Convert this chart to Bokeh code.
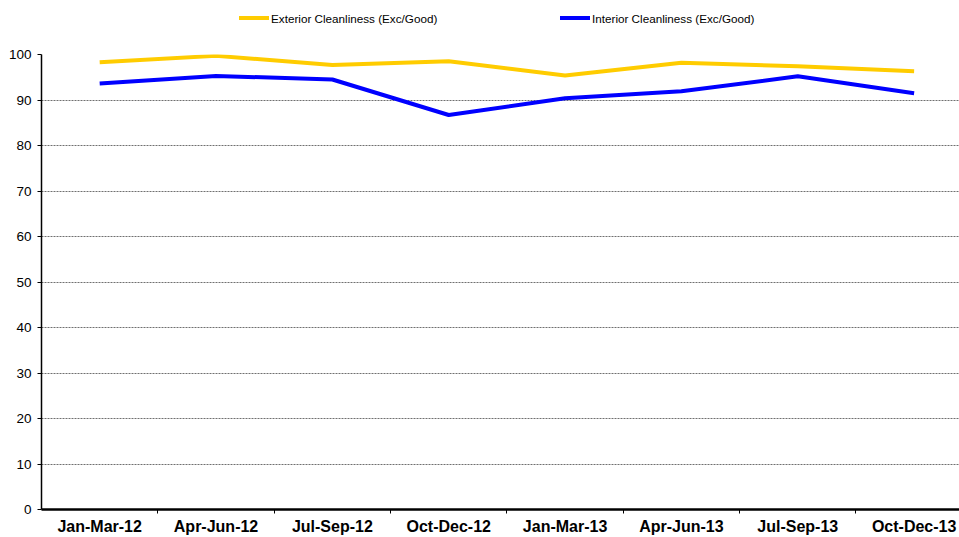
from bokeh.plotting import figure
from bokeh.models import FixedTicker, Range1d, Div
from bokeh.layouts import column
from bokeh.embed import file_html
from bokeh.resources import INLINE

categories = ["Jan-Mar-12", "Apr-Jun-12", "Jul-Sep-12", "Oct-Dec-12",
              "Jan-Mar-13", "Apr-Jun-13", "Jul-Sep-13", "Oct-Dec-13"]
exterior = [98.3, 99.7, 97.7, 98.5, 95.4, 98.2, 97.4, 96.3]
interior = [93.6, 95.3, 94.5, 86.7, 90.4, 91.9, 95.2, 91.5]
series_names = ["Exterior Cleanliness (Exc/Good)", "Interior Cleanliness (Exc/Good)"]
series_colors = ["#FFCC00", "#0000FF"]
y_ticks = list(range(0, 101, 10))

xs = [i + 0.5 for i in range(len(categories))]

p = figure(width=959, height=491, output_backend="svg", toolbar_location=None,
           x_range=Range1d(0, 7.89), y_range=Range1d(0, 100),
           min_border_left=41, min_border_right=0, min_border_top=8,
           min_border_bottom=28)
p.outline_line_color = None
p.background_fill_color = "white"
p.border_fill_color = "white"

for vals, col in zip([exterior, interior], series_colors):
    p.line(xs, vals, line_color=col, line_width=4)

# x axis
p.xaxis.ticker = FixedTicker(ticks=xs, minor_ticks=list(range(1, len(categories))))
p.xaxis.major_label_overrides = {x: c for x, c in zip(xs, categories)}
p.xaxis.major_tick_out = 0
p.xaxis.major_tick_in = 0
p.xaxis.minor_tick_out = 4
p.xaxis.minor_tick_in = 0
p.xaxis.minor_tick_line_color = "black"
p.xaxis.axis_line_color = "black"
p.xaxis.axis_line_width = 2.5
p.xaxis.major_label_text_font = "Liberation Sans"
p.xaxis.major_label_text_font_style = "bold"
p.xaxis.major_label_text_font_size = "16px"
p.xaxis.major_label_text_color = "black"
p.xaxis.major_label_standoff = 4

# y axis
p.yaxis.ticker = FixedTicker(ticks=y_ticks)
p.yaxis.major_tick_out = 4
p.yaxis.major_tick_in = 0
p.yaxis.minor_tick_line_color = None
p.yaxis.axis_line_color = "black"
p.yaxis.axis_line_width = 1.5
p.yaxis.major_tick_line_color = "black"
p.yaxis.major_label_text_font = "Liberation Sans"
p.yaxis.major_label_text_font_size = "13.5px"
p.yaxis.major_label_text_color = "black"
p.yaxis.major_label_standoff = 6

p.xgrid.grid_line_color = None
p.ygrid.ticker = FixedTicker(ticks=y_ticks[1:])
p.ygrid.grid_line_color = "#707070"
p.ygrid.grid_line_dash = "2 1"
p.ygrid.grid_line_width = 1

# legend row above the chart
item_left = [239, 560]
parts = []
for name, col, left in zip(series_names, series_colors, item_left):
    parts.append(
        f'<span style="position:absolute;left:{left}px;top:16px;width:30px;height:4px;'
        f'background:{col};"></span>'
        f'<span style="position:absolute;left:{left + 32}px;top:12px;line-height:13px;'
        f'white-space:nowrap;">{name}</span>'
    )
legend_html = ('<div style="position:relative;width:959px;height:46px;'
               'font-family:\'Liberation Sans\';font-size:11.7px;color:black;">'
               + "".join(parts) + '</div>')
legend_div = Div(text=legend_html, width=959, height=46, margin=(0, 0, 0, 0))

layout = column(legend_div, p, spacing=0)

open("out.html", "w").write(file_html(layout, INLINE))
